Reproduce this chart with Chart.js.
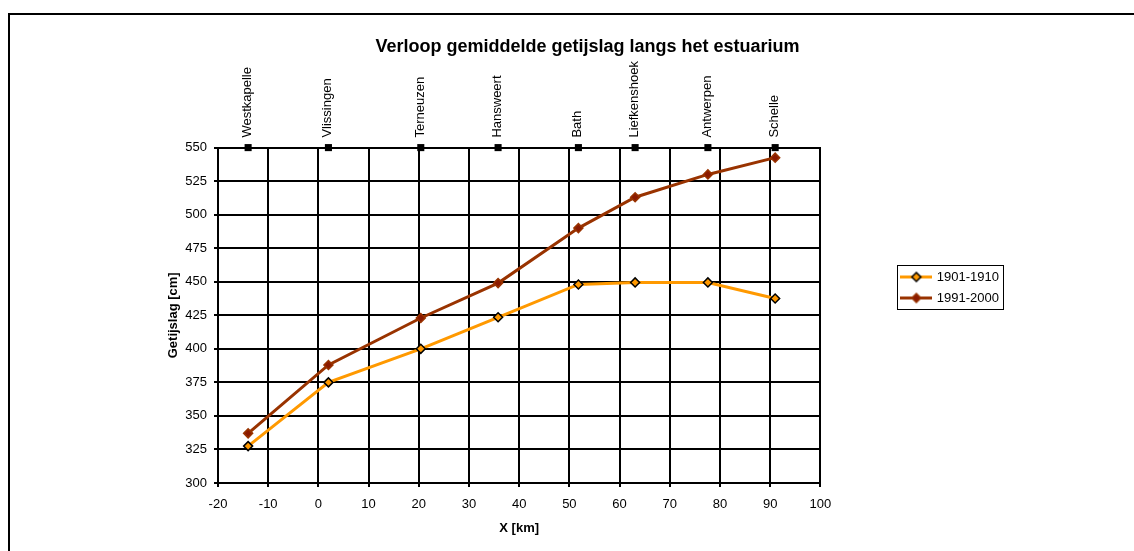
<!DOCTYPE html>
<html lang="nl">
<head>
<meta charset="utf-8">
<title>Verloop gemiddelde getijslag langs het estuarium</title>
<script src="https://cdn.jsdelivr.net/npm/chart.js@4.4.1/dist/chart.umd.min.js"></script>
<style>
    html, body {
        margin: 0;
        padding: 0;
        background: #ffffff;
        overflow: hidden;
    }
    #frame {
        position: absolute;
        left: 8px;
        top: 13px;
        width: 1200px;
        height: 600px;
        border-left: 2px solid #000000;
        border-top: 2px solid #000000;
    }
    #chart-box {
        position: absolute;
        left: 0;
        top: 0;
        width: 1134px;
        height: 551px;
    }
</style>
</head>
<body>
<div id="frame"></div>
<div id="chart-box"><canvas id="tide-chart"></canvas></div>
<script>
"use strict";

// Meetstations langs de Westerschelde en hun afstand in km
const stationNames = ["Westkapelle", "Vlissingen", "Terneuzen", "Hansweert", "Bath", "Liefkenshoek", "Antwerpen", "Schelle"];
const stationKm = [-14, 2, 20.4, 35.8, 51.8, 63.1, 77.6, 91];

// Gemiddelde getijslag in cm per periode
const tide1901 = [327.5, 375, 400, 423.5, 448, 449.5, 449.5, 437.5];
const tide1991 = [337, 388, 423, 449, 490, 513, 530, 542.5];

const seriesLabels = ["1901-1910", "1991-2000"];

// Asgrenzen
const xMin = -20;
const xMax = 100;
const xStep = 10;
const yMin = 300;
const yMax = 550;
const yStep = 25;

const fontFamily = "'Liberation Sans', Arial, sans-serif";

// Icoontje voor de legenda: lijn met ruitje in het midden
function legendIcon(lineColor, fillColor, edgeColor) {
    const c = document.createElement("canvas");
    c.width = 32;
    c.height = 13;
    const ctx = c.getContext("2d");
    ctx.strokeStyle = lineColor;
    ctx.lineWidth = 3;
    ctx.beginPath();
    ctx.moveTo(0, 6.5);
    ctx.lineTo(32, 6.5);
    ctx.stroke();
    ctx.fillStyle = fillColor;
    ctx.strokeStyle = edgeColor;
    ctx.lineWidth = 1.5;
    ctx.beginPath();
    ctx.moveTo(16, 2);
    ctx.lineTo(20.5, 6.5);
    ctx.lineTo(16, 11);
    ctx.lineTo(11.5, 6.5);
    ctx.closePath();
    ctx.fill();
    ctx.stroke();
    return c;
}

const icons = [
    legendIcon("#ff9900", "#ff9900", "#000000"),
    legendIcon("#993300", "#8b1a00", "#993300")
];

// Kader om de legenda
const legendFrame = {
    id: "legendFrame",
    afterDraw(chart) {
        const boxes = chart.legend && chart.legend.legendHitBoxes;
        if (!boxes || !boxes.length) {
            return;
        }
        const first = boxes[0];
        const ctx = chart.ctx;
        ctx.save();
        ctx.strokeStyle = "#000000";
        ctx.lineWidth = 1;
        ctx.strokeRect(Math.round(first.left - 5) + 0.5, Math.round(first.top - 6) + 0.5, 106, 44);
        ctx.restore();
    }
};

const data = {
    datasets: [
        {
            label: seriesLabels[0],
            data: stationKm.map((x, i) => ({ x: x, y: tide1901[i] })),
            showLine: true,
            borderColor: "#ff9900",
            backgroundColor: "#ff9900",
            borderWidth: 3,
            pointStyle: "rectRot",
            pointRadius: 4.5,
            pointBackgroundColor: "#ff9900",
            pointBorderColor: "#000000",
            pointBorderWidth: 1.5
        },
        {
            label: seriesLabels[1],
            data: stationKm.map((x, i) => ({ x: x, y: tide1991[i] })),
            showLine: true,
            borderColor: "#993300",
            backgroundColor: "#993300",
            borderWidth: 3,
            pointStyle: "rectRot",
            pointRadius: 4.5,
            pointBackgroundColor: "#8b1a00",
            pointBorderColor: "#993300",
            pointBorderWidth: 1.5
        },
        {
            label: "stations",
            data: stationKm.map((x) => ({ x: x, y: yMax })),
            showLine: false,
            pointStyle: "rect",
            pointRadius: 5,
            pointBackgroundColor: "#000000",
            pointBorderColor: "#000000",
            pointBorderWidth: 0,
            clip: false
        }
    ]
};

const config = {
    type: "scatter",
    data: data,
    options: {
        responsive: true,
        maintainAspectRatio: false,
        animation: false,
        layout: {
            padding: { left: 166, right: 125, top: 24, bottom: 0 }
        },
        scales: {
            x: {
                type: "linear",
                position: "bottom",
                min: xMin,
                max: xMax,
                afterFit(scale) { scale.height = 68; },
                ticks: {
                    stepSize: xStep,
                    color: "#000000",
                    padding: 10,
                    maxRotation: 0,
                    font: { family: fontFamily, size: 13 }
                },
                grid: {
                    color: "#000000",
                    lineWidth: 2,
                    tickLength: 4,
                    tickColor: "#000000"
                },
                border: { color: "#000000", width: 2 },
                title: {
                    display: true,
                    text: "X [km]",
                    color: "#000000",
                    padding: { top: 0, bottom: 15 },
                    font: { family: fontFamily, size: 13, weight: "bold" }
                }
            },
            xTop: {
                type: "linear",
                axis: "x",
                position: "top",
                min: xMin,
                max: xMax,
                afterFit(scale) { scale.height = 90; },
                afterBuildTicks(scale) {
                    scale.ticks = stationKm.map((v) => ({ value: v }));
                },
                ticks: {
                    autoSkip: false,
                    minRotation: 90,
                    maxRotation: 90,
                    padding: 10,
                    labelOffset: 15,
                    color: "#000000",
                    font: { family: fontFamily, size: 13 },
                    callback(value, index) {
                        return stationNames[index];
                    }
                },
                grid: { display: false, drawTicks: false },
                border: { display: true, color: "#000000", width: 2 }
            },
            y: {
                type: "linear",
                position: "left",
                min: yMin,
                max: yMax,
                afterFit(scale) { scale.width = 52; },
                ticks: {
                    stepSize: yStep,
                    color: "#000000",
                    padding: 7,
                    font: { family: fontFamily, size: 13 }
                },
                grid: {
                    color: "#000000",
                    lineWidth: 2,
                    tickLength: 4,
                    tickColor: "#000000"
                },
                border: { color: "#000000", width: 2 },
                title: {
                    display: true,
                    text: "Getijslag [cm]",
                    color: "#000000",
                    padding: 0,
                    font: { family: fontFamily, size: 13, weight: "bold" }
                }
            },
            // lege ruimte tussen grafiek en legenda
            yPad: {
                type: "linear",
                axis: "y",
                position: "right",
                afterFit(scale) { scale.width = 74; },
                ticks: { display: false },
                grid: { display: false },
                border: { display: false }
            }
        },
        plugins: {
            title: {
                display: true,
                text: "Verloop gemiddelde getijslag langs het estuarium",
                color: "#000000",
                padding: { top: 12, bottom: 0 },
                font: { family: fontFamily, size: 18, weight: "bold" }
            },
            legend: {
                position: "right",
                labels: {
                    color: "#000000",
                    usePointStyle: true,
                    pointStyleWidth: 28,
                    padding: 8,
                    font: { family: fontFamily, size: 13 },
                    filter(item) {
                        return item.datasetIndex < 2;
                    },
                    generateLabels(chart) {
                        const items = Chart.defaults.plugins.legend.labels.generateLabels(chart);
                        items.forEach((item) => {
                            if (item.datasetIndex < 2) {
                                item.pointStyle = icons[item.datasetIndex];
                            }
                        });
                        return items;
                    }
                }
            },
            tooltip: { enabled: false }
        }
    },
    plugins: [legendFrame]
};

new Chart(document.getElementById("tide-chart"), config);
</script>
</body>
</html>
